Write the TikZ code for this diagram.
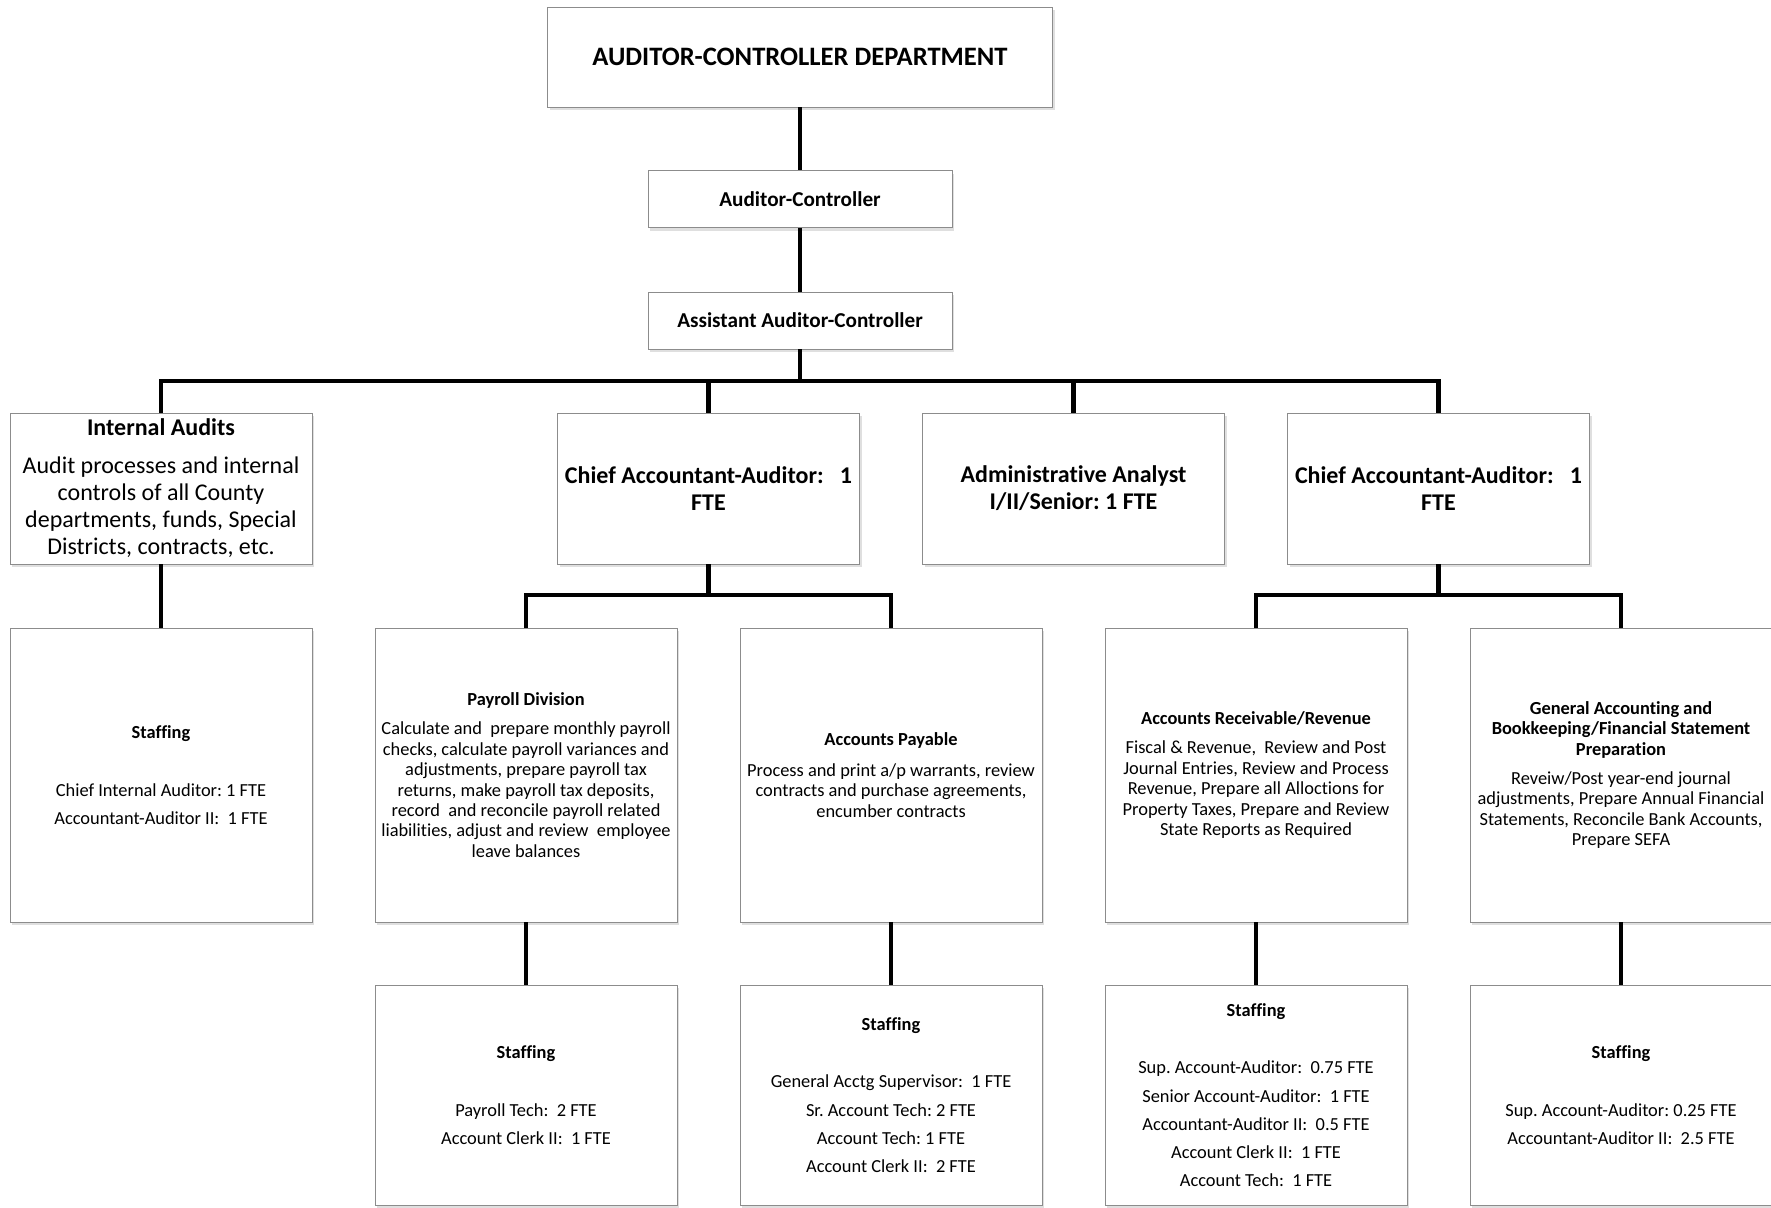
\documentclass[tikz,border=0pt]{standalone}
\usepackage{fontspec}
\setmainfont[Ligatures=NoCommon]{Carlito}
\frenchspacing
\usetikzlibrary{positioning,shadows}

\begin{document}
\begin{tikzpicture}[x=0.5pt,y=-0.5pt,
  box/.style={draw=black!45, fill=white, align=center, inner sep=1pt,
    drop shadow={shadow xshift=1.2pt,shadow yshift=-1.5pt,fill=black!25}},
  head/.style={box, minimum width=152pt, minimum height=28.5pt, font=\bfseries\fontsize{10.6}{12}\selectfont},
  unit/.style={box, minimum width=151pt, minimum height=75.5pt, font=\fontsize{12}{13.5}\selectfont},
  duty/.style={box, minimum width=151pt, minimum height=147pt, font=\fontsize{9.2}{10.2}\selectfont},
  staff/.style={box, minimum width=151pt, font=\fontsize{9.2}{14.1}\selectfont},
  link/.style={line width=2.2pt}]
  \useasboundingbox (0,0) rectangle (1771,1207);

  \node[box, minimum width=252.5pt, minimum height=50pt, font=\bfseries\fontsize{13.3}{15}\selectfont] (dept) at (800,57) {AUDITOR-CONTROLLER DEPARTMENT};
  \node[head] (ac) at (800,199) {Auditor-Controller};
  \node[head] (asst) at (800,320.5) {Assistant Auditor-Controller};

  \node[unit] (ia) at (161,488.5) {\textbf{Internal Audits}\\[5.5pt]Audit processes and internal\\controls of all County\\departments, funds, Special\\Districts, contracts, etc.};
  \node[unit] (chiefone) at (708.5,488.5) {\textbf{Chief Accountant-Auditor:\ \ \ 1}\\\textbf{FTE}};
  \node[unit] (admin) at (1073.5,488.5) {\textbf{Administrative Analyst}\\\textbf{I/II/Senior: 1 FTE}};
  \node[unit] (chieftwo) at (1438.5,488.5) {\textbf{Chief Accountant-Auditor:\ \ \ 1}\\\textbf{FTE}};

  \node[staff, minimum height=147pt] (iastaff) at (161,775) {\textbf{Staffing}\\[14.7pt]Chief Internal Auditor: 1 FTE\\Accountant-Auditor II:\ \ 1 FTE};
  \node[duty] (payroll) at (526,775) {\textbf{Payroll Division}\\[4.5pt]Calculate and\ \ prepare monthly payroll\\checks, calculate payroll variances and\\adjustments, prepare payroll tax\\returns, make payroll tax deposits,\\record\ \ and reconcile payroll related\\liabilities, adjust and review\ \ employee\\leave balances};
  \node[duty] (payable) at (891,775) {\textbf{Accounts Payable}\\[5pt]Process and print a/p warrants, review\\contracts and purchase agreements,\\encumber contracts};
  \node[duty] (receivable) at (1256,775) {\textbf{Accounts Receivable/Revenue}\\[4.5pt]Fiscal \& Revenue,\ \ Review and Post\\Journal Entries, Review and Process\\Revenue, Prepare all Alloctions for\\Property Taxes, Prepare and Review\\State Reports as Required};
  \node[duty] (general) at (1621,775) {\textbf{General Accounting and}\\\textbf{Bookkeeping/Financial Statement}\\\textbf{Preparation}\\[4.5pt]Reveiw/Post year-end journal\\adjustments, Prepare Annual Financial\\Statements, Reconcile Bank Accounts,\\Prepare SEFA};

  \node[staff, minimum height=110pt] (paystaff) at (526,1095) {\textbf{Staffing}\\[14.7pt]Payroll Tech:\ \ 2 FTE\\Account Clerk II:\ \ 1 FTE};
  \node[staff, minimum height=110pt] (apstaff) at (891,1095) {\textbf{Staffing}\\[14.7pt]General Acctg Supervisor:\ \ 1 FTE\\Sr. Account Tech: 2 FTE\\Account Tech: 1 FTE\\Account Clerk II:\ \ 2 FTE};
  \node[staff, minimum height=110pt] (arstaff) at (1256,1095) {\textbf{Staffing}\\[14.7pt]Sup. Account-Auditor:\ \ 0.75 FTE\\Senior Account-Auditor:\ \ 1 FTE\\Accountant-Auditor II:\ \ 0.5 FTE\\Account Clerk II:\ \ 1 FTE\\Account Tech:\ \ 1 FTE};
  \node[staff, minimum height=110pt] (gastaff) at (1621,1095) {\textbf{Staffing}\\[14.7pt]Sup. Account-Auditor: 0.25 FTE\\Accountant-Auditor II:\ \ 2.5 FTE};

  \coordinate (bus) at (800,381);
  \coordinate (lbus) at (708.5,595);
  \coordinate (rbus) at (1438.5,595);
  \draw[link] (dept) -- (ac); \draw[link] (ac) -- (asst); \draw[link] (asst) -- (bus);
  \draw[link] (ia.north) |- (bus) -| (chieftwo.north);
  \draw[link] (chiefone.north) |- (bus); \draw[link] (admin.north) |- (bus);
  \draw[link] (chiefone) -- (lbus); \draw[link] (payroll.north) |- (lbus) -| (payable.north);
  \draw[link] (chieftwo) -- (rbus); \draw[link] (receivable.north) |- (rbus) -| (general.north);
  \draw[link] (ia) -- (iastaff);
  \draw[link] (payroll) -- (paystaff); \draw[link] (payable) -- (apstaff);
  \draw[link] (receivable) -- (arstaff); \draw[link] (general) -- (gastaff);
\end{tikzpicture}
\end{document}
